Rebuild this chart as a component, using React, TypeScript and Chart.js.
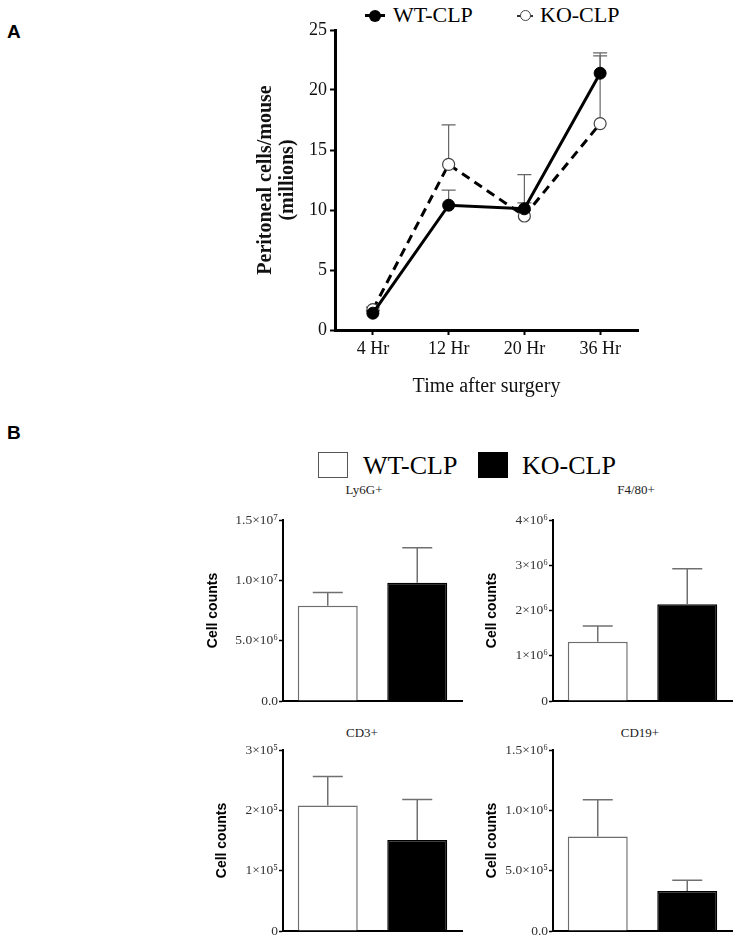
import React, { useEffect, useRef } from 'react';
import { Chart, registerables } from 'chart.js';

Chart.register(...registerables);

const W = 739;
const H = 945;

// ---------- Panel A data ----------
const timeLabels = ['4 Hr', '12 Hr', '20 Hr', '36 Hr'];
const wtMean = [1.4, 10.4, 10.1, 21.4];
const wtUpper = [1.6, 11.65, 10.6, 22.85];
const koMean = [1.7, 13.8, 9.5, 17.2];
const koUpper = [1.9, 17.1, 12.95, 23.1];
const aYTicks = [0, 5, 10, 15, 20, 25];

// ---------- Panel B data ----------
const groups = ['WT-CLP', 'KO-CLP'];

const ly6gMean = [7.9e6, 9.8e6];
const ly6gUpper = [9.0e6, 12.7e6];
const ly6gTickValues = [0, 5e6, 1e7, 1.5e7];
const ly6gTickLabels = ['0.0', '5.0×10⁶', '1.0×10⁷', '1.5×10⁷'];

const f480Mean = [1.31e6, 2.14e6];
const f480Upper = [1.66e6, 2.92e6];
const f480TickValues = [0, 1e6, 2e6, 3e6, 4e6];
const f480TickLabels = ['0', '1×10⁶', '2×10⁶', '3×10⁶', '4×10⁶'];

const cd3Mean = [2.08e5, 1.51e5];
const cd3Upper = [2.56e5, 2.18e5];
const cd3TickValues = [0, 1e5, 2e5, 3e5];
const cd3TickLabels = ['0', '1×10⁵', '2×10⁵', '3×10⁵'];

const cd19Mean = [7.83e5, 3.32e5];
const cd19Upper = [1.088e6, 4.2e5];
const cd19TickValues = [0, 5e5, 1e6, 1.5e6];
const cd19TickLabels = ['0.0', '5.0×10⁵', '1.0×10⁶', '1.5×10⁶'];

// ---------- helpers ----------
type Area = { l: number; t: number; r: number; b: number };

function pad(area: Area, yW: number, xH: number) {
  return { left: area.l - yW, top: area.t, right: W - area.r, bottom: H - area.b - xH };
}

function drawErrorBars(chart: any, opts: any) {
  const ctx = chart.ctx;
  const yScale = chart.scales.y;
  chart.data.datasets.forEach((ds: any, i: number) => {
    const upper = ds.upper;
    if (!upper) return;
    const meta = chart.getDatasetMeta(i);
    meta.data.forEach((el: any, j: number) => {
      const x = el.x;
      const y0 = yScale.getPixelForValue(ds.data[j]);
      const y1 = yScale.getPixelForValue(upper[j]);
      ctx.save();
      ctx.strokeStyle = opts.color;
      ctx.lineWidth = opts.width;
      ctx.beginPath();
      ctx.moveTo(x, y0);
      ctx.lineTo(x, y1);
      ctx.moveTo(x - opts.cap, y1);
      ctx.lineTo(x + opts.cap, y1);
      ctx.stroke();
      ctx.restore();
    });
  });
}

const errorBarPlugin = {
  id: 'errorBars',
  beforeDatasetsDraw(chart: any, _a: any, opts: any) {
    if (opts.when === 'before') drawErrorBars(chart, opts);
  },
  afterDatasetsDraw(chart: any, _a: any, opts: any) {
    if (opts.when === 'after') drawErrorBars(chart, opts);
  },
};

// ---------- Panel A config ----------
function makeLineConfig() {
  const area: Area = { l: 335, t: 30, r: 638, b: 330 };
  const yW = 80;
  const xH = 70;
  return {
    type: 'line',
    data: {
      labels: timeLabels,
      datasets: [
        {
          label: 'WT-CLP',
          data: wtMean,
          upper: wtUpper,
          borderColor: '#000',
          borderWidth: 3,
          pointRadius: 6,
          pointBackgroundColor: '#000',
          pointBorderColor: '#000',
          pointBorderWidth: 1,
          tension: 0,
          fill: false,
        },
        {
          label: 'KO-CLP',
          data: koMean,
          upper: koUpper,
          borderColor: '#000',
          borderWidth: 3,
          borderDash: [9, 6],
          pointRadius: 6,
          pointBackgroundColor: '#fff',
          pointBorderColor: '#444',
          pointBorderWidth: 1.2,
          tension: 0,
          fill: false,
        },
      ],
    },
    options: {
      animation: false,
      responsive: false,
      maintainAspectRatio: false,
      layout: { padding: pad(area, yW, xH) },
      plugins: {
        legend: { display: false },
        tooltip: { enabled: false },
        errorBars: { when: 'before', color: '#666', width: 1.2, cap: 7 },
      },
      scales: {
        x: {
          type: 'category',
          offset: true,
          grid: {
            display: true,
            drawOnChartArea: false,
            drawTicks: true,
            tickLength: 5,
            tickWidth: 2,
            tickColor: '#000',
            offset: false,
          },
          border: { display: true, width: 3, color: '#000' },
          ticks: {
            font: { family: 'Liberation Serif', size: 18 },
            color: '#111',
            padding: 3,
            maxRotation: 0,
            autoSkip: false,
          },
          title: {
            display: true,
            text: 'Time after surgery',
            font: { family: 'Liberation Serif', size: 20 },
            color: '#111',
            padding: { top: 0, bottom: 1 },
          },
          afterFit: (s: any) => {
            s.height = xH;
          },
        },
        y: {
          min: 0,
          max: 25,
          afterBuildTicks: (s: any) => {
            s.ticks = aYTicks.map((v) => ({ value: v }));
          },
          grid: {
            display: true,
            drawOnChartArea: false,
            drawTicks: true,
            tickLength: 5,
            tickWidth: 2,
            tickColor: '#000',
          },
          border: { display: true, width: 3, color: '#000' },
          ticks: {
            font: { family: 'Liberation Serif', size: 18 },
            color: '#111',
            padding: 3,
          },
          title: {
            display: true,
            text: ['Peritoneal cells/mouse', '(millions)'],
            font: { family: 'Liberation Serif', size: 20, weight: 'bold', lineHeight: 1.1 },
            color: '#111',
            padding: 0,
          },
          afterFit: (s: any) => {
            s.width = yW;
          },
        },
      },
    },
    plugins: [errorBarPlugin],
  };
}

// ---------- Panel B config ----------
function makeBarConfig(
  mean: number[],
  upper: number[],
  tickValues: number[],
  tickLabels: string[],
  area: Area,
  titleX: number
) {
  const titleFont = 14;
  const titleLH = 1.2;
  const leftPad = titleX - (titleFont * titleLH) / 2;
  const yW = area.l - leftPad;
  const xH = 6;
  return {
    type: 'bar',
    data: {
      labels: groups,
      datasets: [
        {
          data: mean,
          upper: upper,
          backgroundColor: ['#ffffff', '#000000'],
          borderColor: ['#6e6e6e', '#000000'],
          borderWidth: 1.5,
          barPercentage: 0.67,
          categoryPercentage: 1,
        },
      ],
    },
    options: {
      animation: false,
      responsive: false,
      maintainAspectRatio: false,
      layout: { padding: pad(area, yW, xH) },
      plugins: {
        legend: { display: false },
        tooltip: { enabled: false },
        errorBars: { when: 'after', color: '#707070', width: 1.5, cap: 15 },
      },
      scales: {
        x: {
          type: 'category',
          offset: true,
          grid: { display: false },
          ticks: { display: false },
          border: { display: true, width: 2, color: '#000' },
          afterFit: (s: any) => {
            s.height = xH;
          },
        },
        y: {
          min: 0,
          max: tickValues[tickValues.length - 1],
          afterBuildTicks: (s: any) => {
            s.ticks = tickValues.map((v) => ({ value: v }));
          },
          grid: {
            display: true,
            drawOnChartArea: false,
            drawTicks: true,
            tickLength: 4,
            tickWidth: 1.5,
            tickColor: '#000',
          },
          border: { display: true, width: 2, color: '#000' },
          ticks: {
            font: { family: 'Liberation Serif', size: 13.5 },
            color: '#333',
            padding: 1,
            callback: (v: number) => {
              const idx = tickValues.indexOf(v);
              return idx >= 0 ? tickLabels[idx] : '';
            },
          },
          title: {
            display: true,
            text: 'Cell counts',
            font: { family: 'Liberation Sans', size: titleFont, weight: 'bold', lineHeight: titleLH },
            color: '#000',
            padding: 0,
          },
          afterFit: (s: any) => {
            s.width = yW;
          },
        },
      },
    },
    plugins: [errorBarPlugin],
  };
}

// ---------- components ----------
function ChartLayer({ make }: { make: () => any }) {
  const ref = useRef<HTMLCanvasElement>(null);
  useEffect(() => {
    const chart = new Chart(ref.current as HTMLCanvasElement, make() as any);
    return () => chart.destroy();
  }, []);
  return (
    <canvas
      ref={ref}
      width={W}
      height={H}
      style={{ position: 'absolute', left: 0, top: 0, width: W, height: H, pointerEvents: 'none' }}
    />
  );
}

function Label({
  x,
  y,
  size,
  family,
  weight,
  center,
  color,
  children,
}: {
  x: number;
  y: number;
  size: number;
  family: string;
  weight?: string;
  center?: boolean;
  color?: string;
  children: any;
}) {
  const lh = Math.round(size * 1.2);
  return (
    <div
      style={{
        position: 'absolute',
        left: x,
        top: y - lh / 2,
        fontSize: size,
        lineHeight: `${lh}px`,
        fontFamily: family,
        fontWeight: (weight as any) || 'normal',
        color: color || '#000',
        whiteSpace: 'nowrap',
        transform: center ? 'translateX(-50%)' : undefined,
      }}
    >
      {children}
    </div>
  );
}

export default function App() {
  const serif = "'Liberation Serif', serif";
  const sans = "'Liberation Sans', sans-serif";
  return (
    <div
      style={{
        position: 'absolute',
        left: 0,
        top: 0,
        width: W,
        height: H,
        background: '#fff',
        overflow: 'hidden',
      }}
    >
      {/* Panel labels */}
      <Label x={7} y={31} size={19} family={sans} weight="bold">A</Label>
      <Label x={7} y={432} size={19} family={sans} weight="bold">B</Label>

      {/* Panel A legend */}
      <div style={{ position: 'absolute', left: 365, top: 14, width: 20, height: 3, background: '#000' }} />
      <div
        style={{
          position: 'absolute',
          left: 369,
          top: 9.5,
          width: 12,
          height: 12,
          borderRadius: '50%',
          background: '#000',
        }}
      />
      <Label x={393} y={15} size={22} family={serif}>WT-CLP</Label>
      <div style={{ position: 'absolute', left: 517, top: 15, width: 16, height: 1.5, background: '#333' }} />
      <div
        style={{
          position: 'absolute',
          left: 519.5,
          top: 10,
          width: 11,
          height: 11,
          borderRadius: '50%',
          background: '#fff',
          border: '1.2px solid #444',
          boxSizing: 'border-box',
        }}
      />
      <Label x={540} y={15} size={22} family={serif}>KO-CLP</Label>

      {/* Panel B legend */}
      <div
        style={{
          position: 'absolute',
          left: 318,
          top: 452,
          width: 30,
          height: 26,
          border: '1.5px solid #555',
          boxSizing: 'border-box',
          background: '#fff',
        }}
      />
      <Label x={363} y={465} size={26} family={serif}>WT-CLP</Label>
      <div style={{ position: 'absolute', left: 478, top: 452, width: 30, height: 26, background: '#000' }} />
      <Label x={522} y={465} size={26} family={serif}>KO-CLP</Label>

      {/* Panel B subplot titles */}
      <Label x={364} y={490} size={13} family={serif} center color="#222">Ly6G+</Label>
      <Label x={636} y={490} size={13} family={serif} center color="#222">F4/80+</Label>
      <Label x={362} y={733} size={13} family={serif} center color="#222">CD3+</Label>
      <Label x={640} y={733} size={13} family={serif} center color="#222">CD19+</Label>

      <ChartLayer make={makeLineConfig} />
      <ChartLayer
        make={() =>
          makeBarConfig(ly6gMean, ly6gUpper, ly6gTickValues, ly6gTickLabels, { l: 283, t: 520, r: 462, b: 701 }, 213)
        }
      />
      <ChartLayer
        make={() =>
          makeBarConfig(f480Mean, f480Upper, f480TickValues, f480TickLabels, { l: 553, t: 520, r: 732, b: 701 }, 492)
        }
      />
      <ChartLayer
        make={() =>
          makeBarConfig(cd3Mean, cd3Upper, cd3TickValues, cd3TickLabels, { l: 283, t: 750, r: 462, b: 931 }, 222)
        }
      />
      <ChartLayer
        make={() =>
          makeBarConfig(cd19Mean, cd19Upper, cd19TickValues, cd19TickLabels, { l: 553, t: 750, r: 732, b: 931 }, 492)
        }
      />
    </div>
  );
}
